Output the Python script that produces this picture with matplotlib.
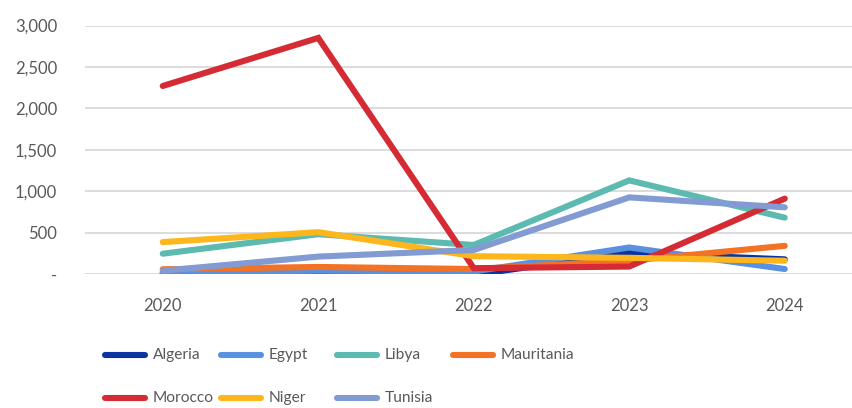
import matplotlib.pyplot as plt
from matplotlib.lines import Line2D
from matplotlib.ticker import FuncFormatter

years = ['2020', '2021', '2022', '2023', '2024']

algeria = [10, 15, -10, 255, 177]
egypt = [20, 40, 30, 320, 60]
libya = [245, 480, 350, 1130, 680]
mauritania = [57, 85, 60, 160, 340]
morocco = [2270, 2850, 70, 90, 910]
niger = [385, 505, 215, 195, 160]
tunisia = [40, 210, 290, 925, 805]

series = [
    ('Algeria', algeria, '#0a35a0'),
    ('Egypt', egypt, '#5a90e0'),
    ('Libya', libya, '#5cbab1'),
    ('Mauritania', mauritania, '#f47224'),
    ('Morocco', morocco, '#d52b35'),
    ('Niger', niger, '#fdb71c'),
    ('Tunisia', tunisia, '#829bd3'),
]

plt.rcParams['font.family'] = ['Lato', 'DejaVu Sans']

fig = plt.figure(figsize=(8.52, 4.08), dpi=100)
ax = fig.add_axes([85 / 852, 1 - 274 / 408, 777.5 / 852, 248.5 / 408])

x = list(range(len(years)))
for name, vals, c in series:
    ax.plot(x, vals, color=c, lw=4.4, solid_capstyle='round', solid_joinstyle='miter')

ax.set_xlim(-0.5, len(years) - 0.5)
ax.set_ylim(0, 3000)
ax.set_xticks(x)
ax.set_xticklabels(years)
ax.set_yticks(range(0, 3001, 500))
ax.yaxis.set_major_formatter(FuncFormatter(lambda v, p: '-' if v == 0 else f'{int(v):,}'))
ax.grid(axis='y', color='#d9d9d9', lw=1.3)
ax.set_axisbelow(True)
ax.tick_params(length=0, labelsize=12, colors='#595959')
ax.tick_params(axis='y', pad=20)
ax.tick_params(axis='x', pad=17)
for s in ax.spines.values():
    s.set_visible(False)

# legend laid out in fixed-width columns, two rows
col_w = 116
for i, (name, vals, c) in enumerate(series):
    row, col = divmod(i, 4)
    x0 = 105 + col * col_w
    yy = 408 - (355 + row * 43)
    fig.add_artist(Line2D([x0 / 852, (x0 + 40) / 852], [yy / 408, yy / 408],
                          color=c, lw=4.4, solid_capstyle='round'))
    fig.text((x0 + 48) / 852, yy / 408, name, fontsize=11.2, color='#595959',
             va='center', ha='left')

fig.savefig('out.png', dpi=100)
